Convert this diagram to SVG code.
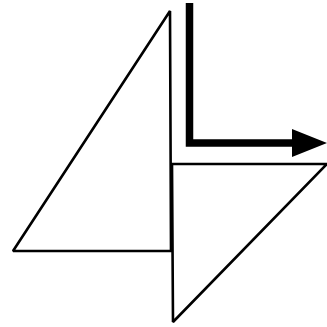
<svg xmlns="http://www.w3.org/2000/svg" width="327" height="327" viewBox="0 0 327 327">
<style>
.tri{fill:none;stroke:#000;stroke-width:2.6;stroke-linejoin:miter;stroke-miterlimit:2}
.arrow{fill:none;stroke:#000;stroke-width:7.5;stroke-linejoin:miter}
</style>
<rect width="327" height="327" fill="#fff"/>
<g id="left-triangle">
<polygon class="tri" points="170,11 13,251 171,251"/>
</g>
<g id="right-triangle">
<polygon class="tri" points="172,164 327,164 173,322"/>
</g>
<g id="connectors">
<polyline class="arrow" points="189.5,3 189.5,143 293,143"/>
<polygon points="292,129 327,143 292,157" fill="#000"/>
</g>
</svg>
